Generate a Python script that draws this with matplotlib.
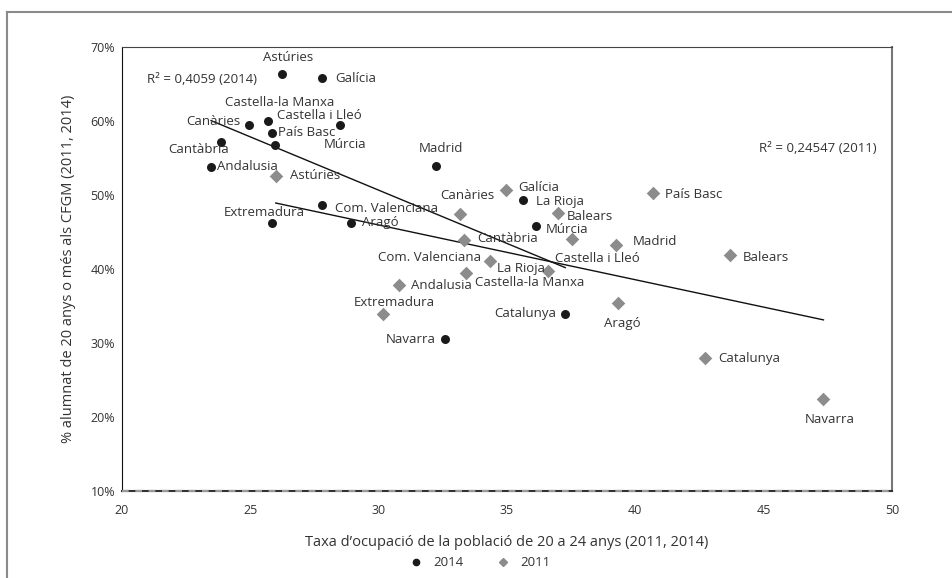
import numpy as np
import matplotlib
matplotlib.use("Agg")
from matplotlib import pyplot as plt
from matplotlib.lines import Line2D

plt.rcParams['font.family'] = ['Open Sans', 'DejaVu Sans']

# 2014 (black dots)
labels_2014 = ["Astúries", "Galícia", "Castella-la Manxa", "Canàries", "Castella i Lleó",
               "País Basc", "Múrcia", "Cantàbria", "Andalusia", "Madrid", "Com. Valenciana",
               "Aragó", "Extremadura", "La Rioja", "Múrcia", "Catalunya", "Navarra"]
x_2014 = [26.22, 27.80, 25.70, 24.96, 28.49, 25.86, 25.96, 23.85, 23.47, 32.23, 27.80,
          28.91, 25.86, 35.61, 36.13, 37.27, 32.58]
y_2014 = [66.27, 65.72, 59.99, 59.40, 59.40, 58.36, 56.79, 57.14, 53.76, 53.90, 48.58,
          46.24, 46.24, 49.26, 45.74, 33.96, 30.54]

# 2011 (grey diamonds)
labels_2011 = ["Astúries", "Galícia", "Canàries", "Balears", "Cantàbria", "Castella i Lleó",
               "Madrid", "Com. Valenciana", "Castella-la Manxa", "La Rioja", "Andalusia",
               "Extremadura", "Aragó", "País Basc", "Balears", "Catalunya", "Navarra"]
x_2011 = [25.99, 34.96, 33.17, 36.98, 33.34, 37.55, 39.23, 34.35, 33.41, 36.59, 30.81,
          30.17, 39.31, 40.67, 43.69, 42.72, 47.33]
y_2011 = [52.54, 50.70, 47.46, 47.59, 43.94, 43.98, 43.17, 41.10, 39.47, 39.65, 37.85,
          33.96, 35.36, 50.20, 41.81, 27.97, 22.42]

r2_2014 = "R² = 0,4059 (2014)"
r2_2011 = "R² = 0,24547 (2011)"

# label placement (pixels right, pixels down, alignment) - styling only
lab_pos_2014 = [(6, -17, 'center'), (13, 0, 'left'), (11, -18, 'center'), (-9, -4, 'right'),
                (-21, -10, 'center'), (6, 0, 'left'), (49, 0, 'left'), (-22, 8, 'center'),
                (6, 0, 'left'), (5, -17, 'center'), (13, 3, 'left'), (11, 0, 'left'),
                (-8, -10, 'center'), (13, 1, 'left'), (10, 3, 'left'), (-9, 0, 'right'),
                (-9, 1, 'right')]
lab_pos_2011 = [(14, 0, 'left'), (12, -2, 'left'), (7, -18, 'center'), (9, 4, 'left'),
                (13, -1, 'left'), (25, 19, 'center'), (17, -4, 'left'), (-9, -3, 'right'),
                (9, 10, 'left'), (-3, -3, 'right'), (12, 1, 'left'), (11, -11, 'center'),
                (5, 20, 'center'), (12, 1, 'left'), (13, 2, 'left'), (13, 1, 'left'),
                (6, 20, 'center')]

txt_col = '#333333'
fs = 9.5

fig = plt.figure(figsize=(9.53, 5.78), dpi=100)
ax = fig.add_axes([122/953, 87/578, 770/953, 444.3/578])

ax.scatter(x_2014, y_2014, s=42, marker='o', color='#1a1a1a', zorder=3, linewidths=0)
ax.scatter(x_2011, y_2011, s=48, marker='D', color='#8c8c8c', zorder=3, linewidths=0)

# linear trendlines
for xs, ys in [(x_2014, y_2014), (x_2011, y_2011)]:
    xs = np.array(xs)
    k, b = np.polyfit(xs, np.array(ys), 1)
    xx = np.array([xs.min(), xs.max()])
    ax.plot(xx, k*xx + b, color='#111111', lw=1.0, zorder=2)

for lab, x, y, (dx, dy, ha) in zip(labels_2014, x_2014, y_2014, lab_pos_2014):
    ax.annotate(lab, (x, y), xytext=(dx, -dy), textcoords='offset pixels',
                ha=ha, va='center', fontsize=fs, color=txt_col)
for lab, x, y, (dx, dy, ha) in zip(labels_2011, x_2011, y_2011, lab_pos_2011):
    ax.annotate(lab, (x, y), xytext=(dx, -dy), textcoords='offset pixels',
                ha=ha, va='center', fontsize=fs, color=txt_col)

ax.text(0.1045, 0.9266, r2_2014, transform=ax.transAxes, ha='center', va='center',
        fontsize=fs, color=txt_col)
ax.text(0.9039, 0.7713, r2_2011, transform=ax.transAxes, ha='center', va='center',
        fontsize=fs, color=txt_col)

ax.set_xlim(20, 50)
ax.set_ylim(10, 70)
ax.set_xticks(range(20, 51, 5))
ax.set_yticks(range(10, 71, 10))
ax.set_yticklabels(["%d%%" % v for v in range(10, 71, 10)])
ax.tick_params(length=0, labelsize=9, labelcolor=txt_col)
ax.tick_params(axis='x', pad=9)
ax.tick_params(axis='y', pad=5)

ax.spines['left'].set_color('#111111')
ax.spines['top'].set_color('#444444')
ax.spines['right'].set_color('#777777')
ax.spines['right'].set_linewidth(1.5)
ax.spines['bottom'].set_color('#333333')
ax.spines['bottom'].set_linewidth(1.5)
ax.plot([20, 50], [10, 10], color='#9a9a9a', lw=1.6, dashes=(3, 3), clip_on=False, zorder=4)

ax.set_xlabel("Taxa d’ocupació de la població de 20 a 24 anys (2011, 2014)",
              fontsize=10.5, color=txt_col, labelpad=13)
ax.set_ylabel("% alumnat de 20 anys o més als CFGM (2011, 2014)",
              fontsize=10.5, color=txt_col, labelpad=10)

handles = [Line2D([], [], marker='o', ls='', color='#1a1a1a', markersize=4.5, label='2014'),
           Line2D([], [], marker='D', ls='', color='#8c8c8c', markersize=4.5, label='2011')]
fig.legend(handles=handles, loc='center', bbox_to_anchor=(0.5, 1 - 563/578), ncol=2,
           frameon=False, fontsize=9.5, handletextpad=0.3, columnspacing=2.0,
           labelcolor=txt_col)

# outer frame (left and top)
fig.add_artist(Line2D([7.5/953, 7.5/953], [0, 1 - 11.7/578], color='#8a8a8a', lw=1.5))
fig.add_artist(Line2D([7.5/953, 1], [1 - 11.7/578, 1 - 11.7/578], color='#8a8a8a', lw=1.5))

fig.savefig("out.png", dpi=100)
